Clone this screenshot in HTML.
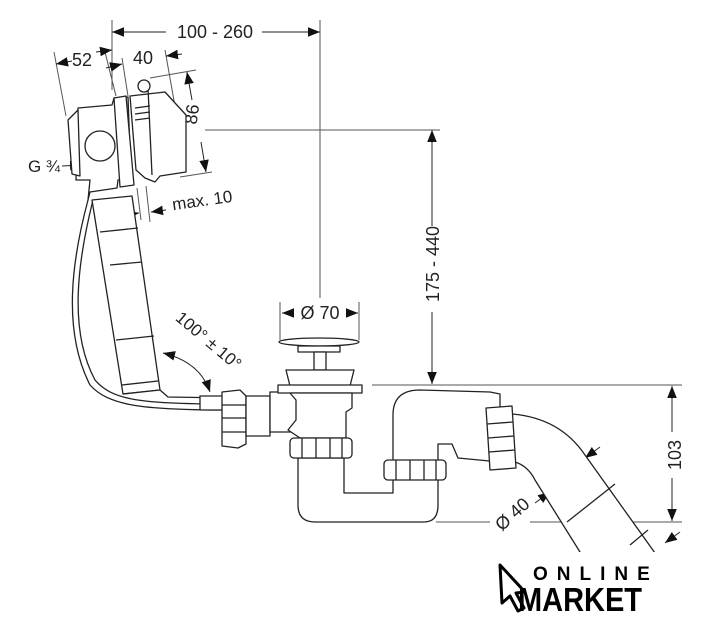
<!DOCTYPE html>
<html><head><meta charset="utf-8"><style>
html,body{margin:0;padding:0;background:#fff;}
svg{display:block;}
text{font-family:"Liberation Sans",sans-serif;fill:#222;}
</style></head><body>
<svg width="706" height="624" viewBox="0 0 706 624" xmlns="http://www.w3.org/2000/svg">
<defs>
<marker id="a" viewBox="0 0 10 10" refX="10" refY="5" markerWidth="12" markerHeight="12" orient="auto-start-reverse" markerUnits="userSpaceOnUse"><path d="M0,1 L10,5 L0,9 z" fill="#111"/></marker>
</defs>
<g stroke="#555" stroke-width="1" fill="none">
<line x1="112" y1="20" x2="112" y2="90"/>
<line x1="320" y1="20" x2="320" y2="298"/>
<line x1="205" y1="130" x2="440" y2="130"/>
<line x1="372" y1="385" x2="682" y2="385"/>
<line x1="436" y1="522" x2="490" y2="522"/>
<line x1="530" y1="522" x2="682" y2="522"/>
<line x1="280" y1="302" x2="280" y2="340"/>
<line x1="359" y1="302" x2="359" y2="340"/>
<line x1="54" y1="52" x2="66" y2="116"/>
<line x1="104" y1="48" x2="116" y2="96"/>
<line x1="122" y1="58" x2="128" y2="96"/>
<line x1="165" y1="50" x2="176" y2="112"/>
<line x1="150" y1="78" x2="196" y2="70"/>
<line x1="180" y1="177" x2="212" y2="172"/>
<line x1="137" y1="188" x2="141" y2="220"/>
<line x1="146" y1="186" x2="150" y2="222"/>
</g>
<g stroke="#222" stroke-width="1" fill="none">
<line x1="112" y1="32" x2="166" y2="32" marker-start="url(#a)"/>
<line x1="262" y1="32" x2="320" y2="32" marker-end="url(#a)"/>
<line x1="56" y1="64" x2="72" y2="61" marker-start="url(#a)"/>
<line x1="96" y1="52" x2="112" y2="50" marker-end="url(#a)"/>
<line x1="106" y1="68" x2="122" y2="64" marker-end="url(#a)"/>
<line x1="182" y1="54" x2="166" y2="56" marker-end="url(#a)"/>
<line x1="192" y1="100" x2="187" y2="72" marker-end="url(#a)"/>
<line x1="201" y1="142" x2="206" y2="172" marker-end="url(#a)"/>
<line x1="62" y1="166" x2="82" y2="165" marker-end="url(#a)"/>
<line x1="128" y1="165" x2="110" y2="166" marker-end="url(#a)"/>
<line x1="125" y1="215" x2="139" y2="213" marker-end="url(#a)"/>
<line x1="166" y1="210" x2="151" y2="212" marker-end="url(#a)"/>
<line x1="432" y1="130" x2="432" y2="226" marker-start="url(#a)"/>
<line x1="432" y1="312" x2="432" y2="384" marker-end="url(#a)"/>
<line x1="282" y1="313" x2="293" y2="313" marker-start="url(#a)"/>
<line x1="346" y1="313" x2="358" y2="313" marker-end="url(#a)"/>
<line x1="672" y1="386" x2="672" y2="432" marker-start="url(#a)"/>
<line x1="672" y1="478" x2="672" y2="521" marker-end="url(#a)"/>
<path d="M163,353 Q200,362 210,392" marker-start="url(#a)" marker-end="url(#a)"/>
<line x1="600" y1="447" x2="585" y2="458" marker-end="url(#a)"/>
<line x1="535" y1="503" x2="550" y2="492" marker-end="url(#a)"/>
<line x1="680" y1="532" x2="665" y2="543" marker-end="url(#a)"/>
</g>
<text x="215" y="38" font-size="18" text-anchor="middle">100 - 260</text>
<text x="82" y="66" font-size="18" text-anchor="middle">52</text>
<text x="143" y="64" font-size="18" text-anchor="middle">40</text>
<text x="203" y="121" font-size="18" text-anchor="middle" transform="rotate(-82 197 121)">86</text>
<text x="44" y="172" font-size="17" text-anchor="middle">G ¾</text>
<text x="203" y="206" font-size="17" text-anchor="middle" transform="rotate(-8 203 206)">max. 10</text>
<text x="433" y="270" font-size="18" text-anchor="middle" transform="rotate(-90 433 264)">175 - 440</text>
<text x="320" y="319" font-size="18" text-anchor="middle">Ø 70</text>
<text x="205" y="345" font-size="17" text-anchor="middle" transform="rotate(40 205 345)">100° ± 10°</text>
<text x="678" y="458" font-size="18" text-anchor="middle" transform="rotate(-90 678 455)">103</text>
<text x="513" y="520" font-size="18" text-anchor="middle" transform="rotate(-42 513 515)">Ø 40</text>
<g stroke="#222" stroke-width="1.3" fill="#fff" stroke-linejoin="round">
<path d="M88,200 C72,260 62,330 90,385 C108,405 140,410 225,410" fill="none"/>
<path d="M93,200 C78,260 68,330 95,380 C112,400 140,404 225,404" fill="none"/>
<path d="M92,200 L132,196 L160,390 L123,394 Z"/>
<line x1="100" y1="232" x2="138" y2="228"/>
<line x1="110" y1="265" x2="142" y2="262"/>
<line x1="116" y1="340" x2="154" y2="336"/>
<line x1="122" y1="385" x2="158" y2="381"/>
<path d="M123,394 L160,390 L168,397 L230,398"/>
<path d="M78,108 L112,105 L114,98 L128,97 L131,178 L118,180 L117,188 L90,192 L88,200 L90,180 L76,180 Z"/>
<path d="M68,120 L78,110 L80,176 L72,174 Z"/>
<circle cx="100" cy="146" r="15"/>
<path d="M114,98 L126,96 L134,185 L120,187 Z"/>
<path d="M130,96 L165,92 L186,115 L186,172 L160,176 L155,182 L145,178 L136,170 Z"/>
<line x1="148" y1="88" x2="152" y2="175"/>
<circle cx="144" cy="86" r="6"/>
<line x1="135" y1="108" x2="150" y2="106"/>
<line x1="135" y1="114" x2="150" y2="112"/>
<line x1="135" y1="120" x2="150" y2="118"/>
<rect x="200" y="396" width="28" height="14"/>
<path d="M222,392 L240,390 L246,396 L246,444 L238,448 L222,446 Z"/>
<line x1="222" y1="405" x2="246" y2="405"/>
<line x1="222" y1="418" x2="246" y2="418"/>
<line x1="222" y1="432" x2="246" y2="432"/>
<rect x="246" y="396" width="24" height="40"/>
<rect x="270" y="392" width="32" height="40"/>
<rect x="300" y="392" width="8" height="22"/>
<ellipse cx="319" cy="342" rx="40" ry="4"/>
<rect x="298" y="346" width="42" height="6"/>
<rect x="314" y="352" width="12" height="18"/>
<path d="M286,370 L354,370 L350,386 L290,386 Z"/>
<rect x="278" y="385" width="84" height="8"/>
<path d="M290,393 L352,393 L352,408 L346,412 L346,438 L300,438 L288,430 L296,420 L296,400 Z"/>
<path d="M298,458 L298,505 Q298,522 315,522 L424,522 Q438,522 438,505 L438,444 L452,444 L458,458 L500,462 L500,394 L490,392 L420,390 Q393,390 393,415 L393,460 L393,493 L344,493 L344,458 Z"/>
<rect x="290" y="438" width="62" height="20" rx="4"/>
<line x1="302" y1="438" x2="302" y2="458"/><line x1="316" y1="438" x2="316" y2="458"/><line x1="330" y1="438" x2="330" y2="458"/><line x1="342" y1="438" x2="342" y2="458"/>
<rect x="384" y="460" width="62" height="20" rx="4"/>
<line x1="396" y1="460" x2="396" y2="480"/><line x1="410" y1="460" x2="410" y2="480"/><line x1="424" y1="460" x2="424" y2="480"/><line x1="436" y1="460" x2="436" y2="480"/>
<path d="M512,414 Q560,418 585,455 L660,560 L585,560 L535,480 Q528,466 515,462 Z"/>
<path d="M486,408 L512,406 L516,468 L490,470 Z"/>
<line x1="487" y1="424" x2="513" y2="422"/><line x1="488" y1="438" x2="514" y2="436"/><line x1="489" y1="452" x2="515" y2="450"/>
<line x1="567" y1="522" x2="615" y2="484"/>
<line x1="630" y1="545" x2="648" y2="530"/>
</g>
<rect x="490" y="552" width="216" height="72" fill="#fff"/>
<path d="M500,565 L525,592 L516,593 L524,608 L518,611 L510,596 L502,603 Z" fill="#fff" stroke="#000" stroke-width="3" stroke-linejoin="round"/>
<text x="533" y="580" font-size="19" font-weight="bold" letter-spacing="9" style="fill:#000">ONLINE</text>
<text x="518" y="611" font-size="33" font-weight="bold" textLength="124" lengthAdjust="spacingAndGlyphs" style="fill:#000">MARKET</text>
</svg>
</body></html>
